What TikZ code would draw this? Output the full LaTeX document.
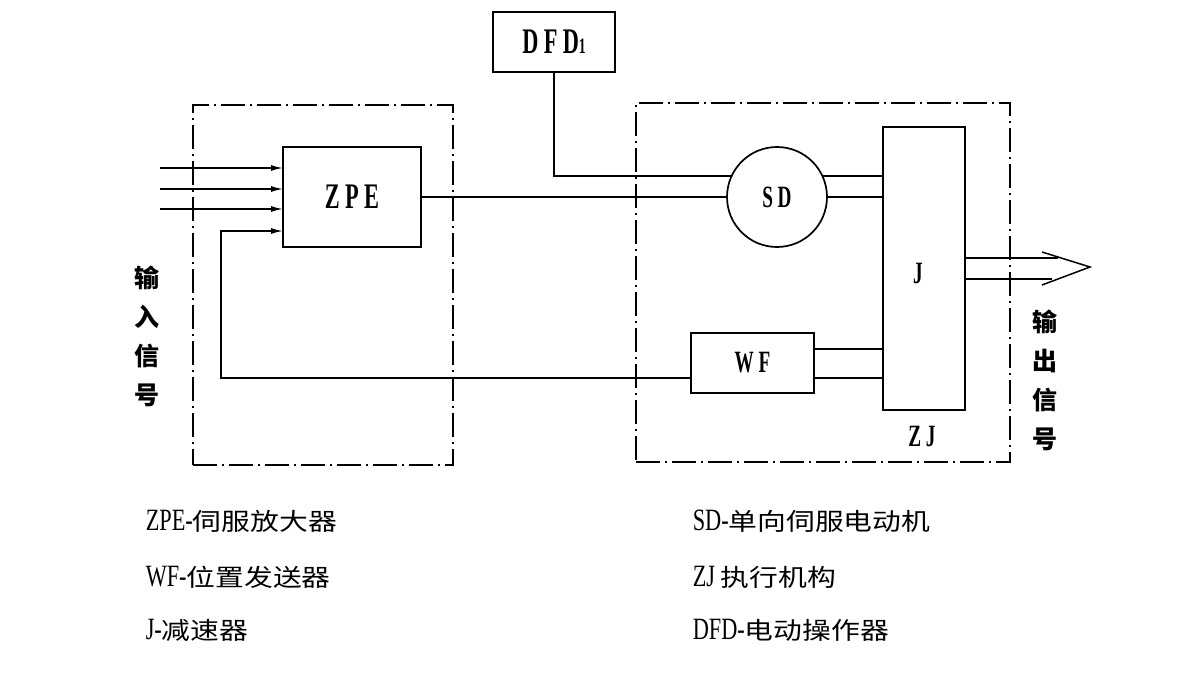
\documentclass[tikz,border=0pt]{standalone}
\usepackage{fontspec}
\setmainfont{Liberation Serif}
\newfontfamily\cjk{Noto Sans CJK SC}
\newfontfamily\cjkw[FakeStretch=1.2]{Noto Sans CJK SC}
\newfontfamily\lab[FakeStretch=0.62,LetterSpace=15]{Liberation Serif}
\newfontfamily\latn[FakeStretch=0.72]{Liberation Serif}
\newcommand\lt[1]{{\latn\fontsize{31}{31}\selectfont #1}}
\usetikzlibrary{arrows.meta,calc}
\begin{document}
\begin{tikzpicture}[x=1pt,y=-1pt,line width=1.5pt,
  boxst/.style={draw,line width=1.7pt,inner sep=0pt,outer sep=0pt},
  frame/.style={draw,line width=1.1pt,inner sep=0pt,outer sep=0pt,
    dash pattern=on 24pt off 5pt on 2pt off 5pt},
  arr/.style={-{Latex[length=12pt,width=6pt]}},
  bigl/.style={font=\lab\bfseries\fontsize{36}{36}\selectfont},
  midl/.style={font=\lab\bfseries\fontsize{31}{31}\selectfont},
  vlab/.style={align=center,font=\cjk\bfseries\fontsize{25}{39}\selectfont},
  leg/.style={anchor=west,inner sep=0pt,font=\cjkw\fontsize{24}{24}\selectfont}]
\useasboundingbox (0,0) rectangle (1189,698);
% frames
\node[frame,minimum width=260pt,minimum height=360pt] (LF) at (323,285) {};
\node[frame,minimum width=374pt,minimum height=359pt] (RF) at (823,282.5) {};
% blocks
\node[boxst,fill=white,minimum width=138pt,minimum height=100pt,bigl] (ZPE) at (352,197) {ZPE};
\node[boxst,fill=white,minimum width=122pt,minimum height=60pt,bigl] (DFD) at (554,42) {DFD{\fontsize{22}{22}\selectfont 1}};
\node[boxst,fill=white,circle,minimum size=100pt,midl] (SD) at (777,197) {SD};
\node[boxst,fill=white,minimum width=82pt,minimum height=283pt] (J) at (924,268.5) {};
\node[midl] (Jl) at (918,274) {J};
\node[boxst,fill=white,minimum width=123pt,minimum height=60pt,midl] (WF) at (752.5,363) {WF};
\node[midl] (ZJ) at (922,436) {ZJ};
% inputs
\coordinate (s1) at (160,168);
\coordinate (s2) at (160,189);
\coordinate (s3) at (160,209);
\draw[arr] (s1) -- ($(ZPE.west)+(0,-29)$);
\draw[arr] (s2) -- ($(ZPE.west)+(0,-8)$);
\draw[arr] (s3) -- ($(ZPE.west)+(0,12)$);
% feedback
\coordinate (fb) at (221,378);
\draw[arr] ($(WF.west)+(0,15)$) -- (fb) |- ($(ZPE.west)+(0,34)$);
% ZPE to SD
\draw (ZPE.east) -- (SD.west);
% DFD to SD
\draw (DFD.south) |- (SD.155);
% SD to J
\draw (SD.25) -- (SD.25 -| J.west);
\draw (SD.east) -- (SD.east -| J.west);
% WF to J
\draw ($(WF.east)+(0,-14)$) -- ($(J.west)+(0,80.5)$);
\draw ($(WF.east)+(0,15)$) -- ($(J.west)+(0,109.5)$);
% output
\coordinate (o1) at (1058,258);
\coordinate (o2) at (1052,279);
\coordinate (tip) at (1090,267);
\coordinate (b1) at (1042,252);
\coordinate (b2) at (1042,285);
\draw ($(J.east)+(0,-10.5)$) -- (o1);
\draw ($(J.east)+(0,10.5)$) -- (o2);
\draw (b1) -- (tip) -- (b2);
% vertical labels
\node[vlab] (inl) at (147,336) {输\\入\\信\\号};
\node[vlab] (outl) at (1045,380) {输\\出\\信\\号};
% legend
\node[leg] (L1) at (145,521) {\lt{ZPE-}伺服放大器};
\node[leg] (L2) at (145,577) {\lt{WF-}位置发送器};
\node[leg] (L3) at (145,630) {\lt{J-}减速器};
\node[leg] (R1) at (692,521) {\lt{SD-}单向伺服电动机};
\node[leg] (R2) at (692,577) {\lt{ZJ }执行机构};
\node[leg] (R3) at (692,630) {\lt{DFD-}电动操作器};
\end{tikzpicture}
\end{document}
